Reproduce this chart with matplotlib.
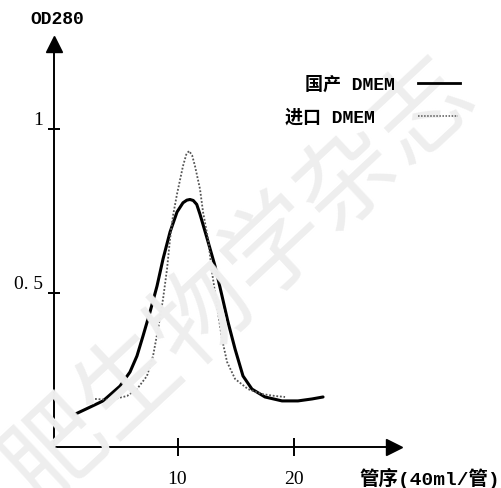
import matplotlib
matplotlib.use("Agg")
import matplotlib.pyplot as plt
from matplotlib.transforms import ScaledTranslation

# ---- data ----
domestic_x = [1.06, 2.49, 3.61, 5.06, 5.92, 6.52, 7.04, 7.64, 8.24, 8.76, 9.36, 9.96, 10.47,
              10.8, 11.07, 11.35, 11.65, 11.93, 12.55, 13.22, 13.82, 14.33, 14.94, 15.62,
              16.39, 17.51, 18.97, 20.34, 21.55, 22.49]
domestic_y = [0.128, 0.152, 0.171, 0.216, 0.259, 0.308, 0.369, 0.442, 0.521, 0.604, 0.686,
              0.747, 0.775, 0.783, 0.785, 0.782, 0.770, 0.740, 0.665, 0.582, 0.491, 0.412,
              0.329, 0.247, 0.207, 0.183, 0.171, 0.171, 0.177, 0.183]

import_x = [2.92, 4.21, 5.67, 6.52, 7.38, 7.90, 8.33, 8.76, 9.10, 9.36, 9.61, 9.96, 10.47,
            10.75, 10.99, 11.25, 11.50, 11.93, 12.19, 12.62, 12.96, 13.39, 13.82, 14.25,
            14.94, 16.05, 17.25, 18.37, 19.23]
import_y = [0.177, 0.174, 0.186, 0.207, 0.247, 0.308, 0.390, 0.482, 0.573, 0.665, 0.735,
            0.802, 0.887, 0.922, 0.933, 0.920, 0.887, 0.817, 0.747, 0.665, 0.564, 0.460,
            0.360, 0.290, 0.238, 0.207, 0.192, 0.186, 0.183]

x_ticks = [10, 20]
x_tick_labels = ["10", "20"]
y_ticks = [0.5, 1.0]
y_tick_labels = ["0. 5", "1"]

series_names = ["国产 DMEM", "进口 DMEM"]
y_title = "OD280"
x_title = "管序(40ml/管)"

W, H = 501, 489
fig = plt.figure(figsize=(W / 100, H / 100), dpi=100)
fig.patch.set_facecolor("white")

def fx(px):
    return px / W

def fy(py):
    return 1 - py / H

MIXED = ["Liberation Mono", "Noto Sans CJK SC"]

# faint diagonal watermark of the scanned page
fig.text(fx(240), fy(282), "肥生物学杂志", fontsize=72, color="#eeeeee",
         rotation=43, ha="center", va="center", family=["Noto Sans CJK SC"],
         zorder=0)

ax = fig.add_axes([fx(54), fy(448), fx(394) - fx(54), fy(45) - fy(448)])
ax.patch.set_alpha(0)
ax.set_xlim(-0.6, 28.58)
ax.set_ylim(0.0305, 1.259)

ax.plot(domestic_x, domestic_y, color="black", lw=2.2, solid_capstyle="round",
        solid_joinstyle="round")
ax.plot(import_x, import_y, color="#555555", lw=1.3, linestyle=(0, (1, 1)))

for s in ["top", "right"]:
    ax.spines[s].set_visible(False)
for s in ["left", "bottom"]:
    ax.spines[s].set_linewidth(1.4)
    ax.spines[s].set_color("black")

# arrow heads
ax.plot(0, 1, marker="^", color="black", markersize=11.5, transform=ax.transAxes,
        clip_on=False)
ax.plot(1, 0, marker=">", color="black", markersize=11.5, transform=ax.transAxes,
        clip_on=False)

ax.set_xticks(x_ticks)
ax.set_xticklabels(x_tick_labels, family="Liberation Serif", fontsize=14)
ax.set_yticks(y_ticks)
ax.set_yticklabels(y_tick_labels, family="Liberation Serif", fontsize=14)
ax.tick_params(axis="x", direction="inout", length=13, width=1.4, pad=10)
ax.tick_params(axis="y", direction="inout", length=8, width=1.4, pad=4)
for lab in ax.get_yticklabels():
    lab.set_transform(lab.get_transform() + ScaledTranslation(0, 11 / 100, fig.dpi_scale_trans))

# titles
fig.text(fx(30), fy(19), y_title, family="Liberation Mono", fontweight="bold",
         fontsize=13, ha="left", va="center")
fig.text(fx(360), fy(478), x_title, family=MIXED, fontsize=14, fontweight="bold",
         ha="left", va="center")

# legend
fig.text(fx(305), fy(85), series_names[0], family=MIXED, fontsize=13, fontweight="bold",
         ha="left", va="center")
fig.text(fx(285), fy(118), series_names[1], family=MIXED, fontsize=13, fontweight="bold",
         ha="left", va="center")
fig.add_artist(plt.Line2D([fx(418), fx(460)], [fy(84), fy(84)], color="black", lw=2.0))
fig.add_artist(plt.Line2D([fx(418), fx(458)], [fy(117), fy(117)], color="#555555",
                          lw=1.1, linestyle=(0, (1, 1))))

fig.savefig("out.png", dpi=100, facecolor="white")
